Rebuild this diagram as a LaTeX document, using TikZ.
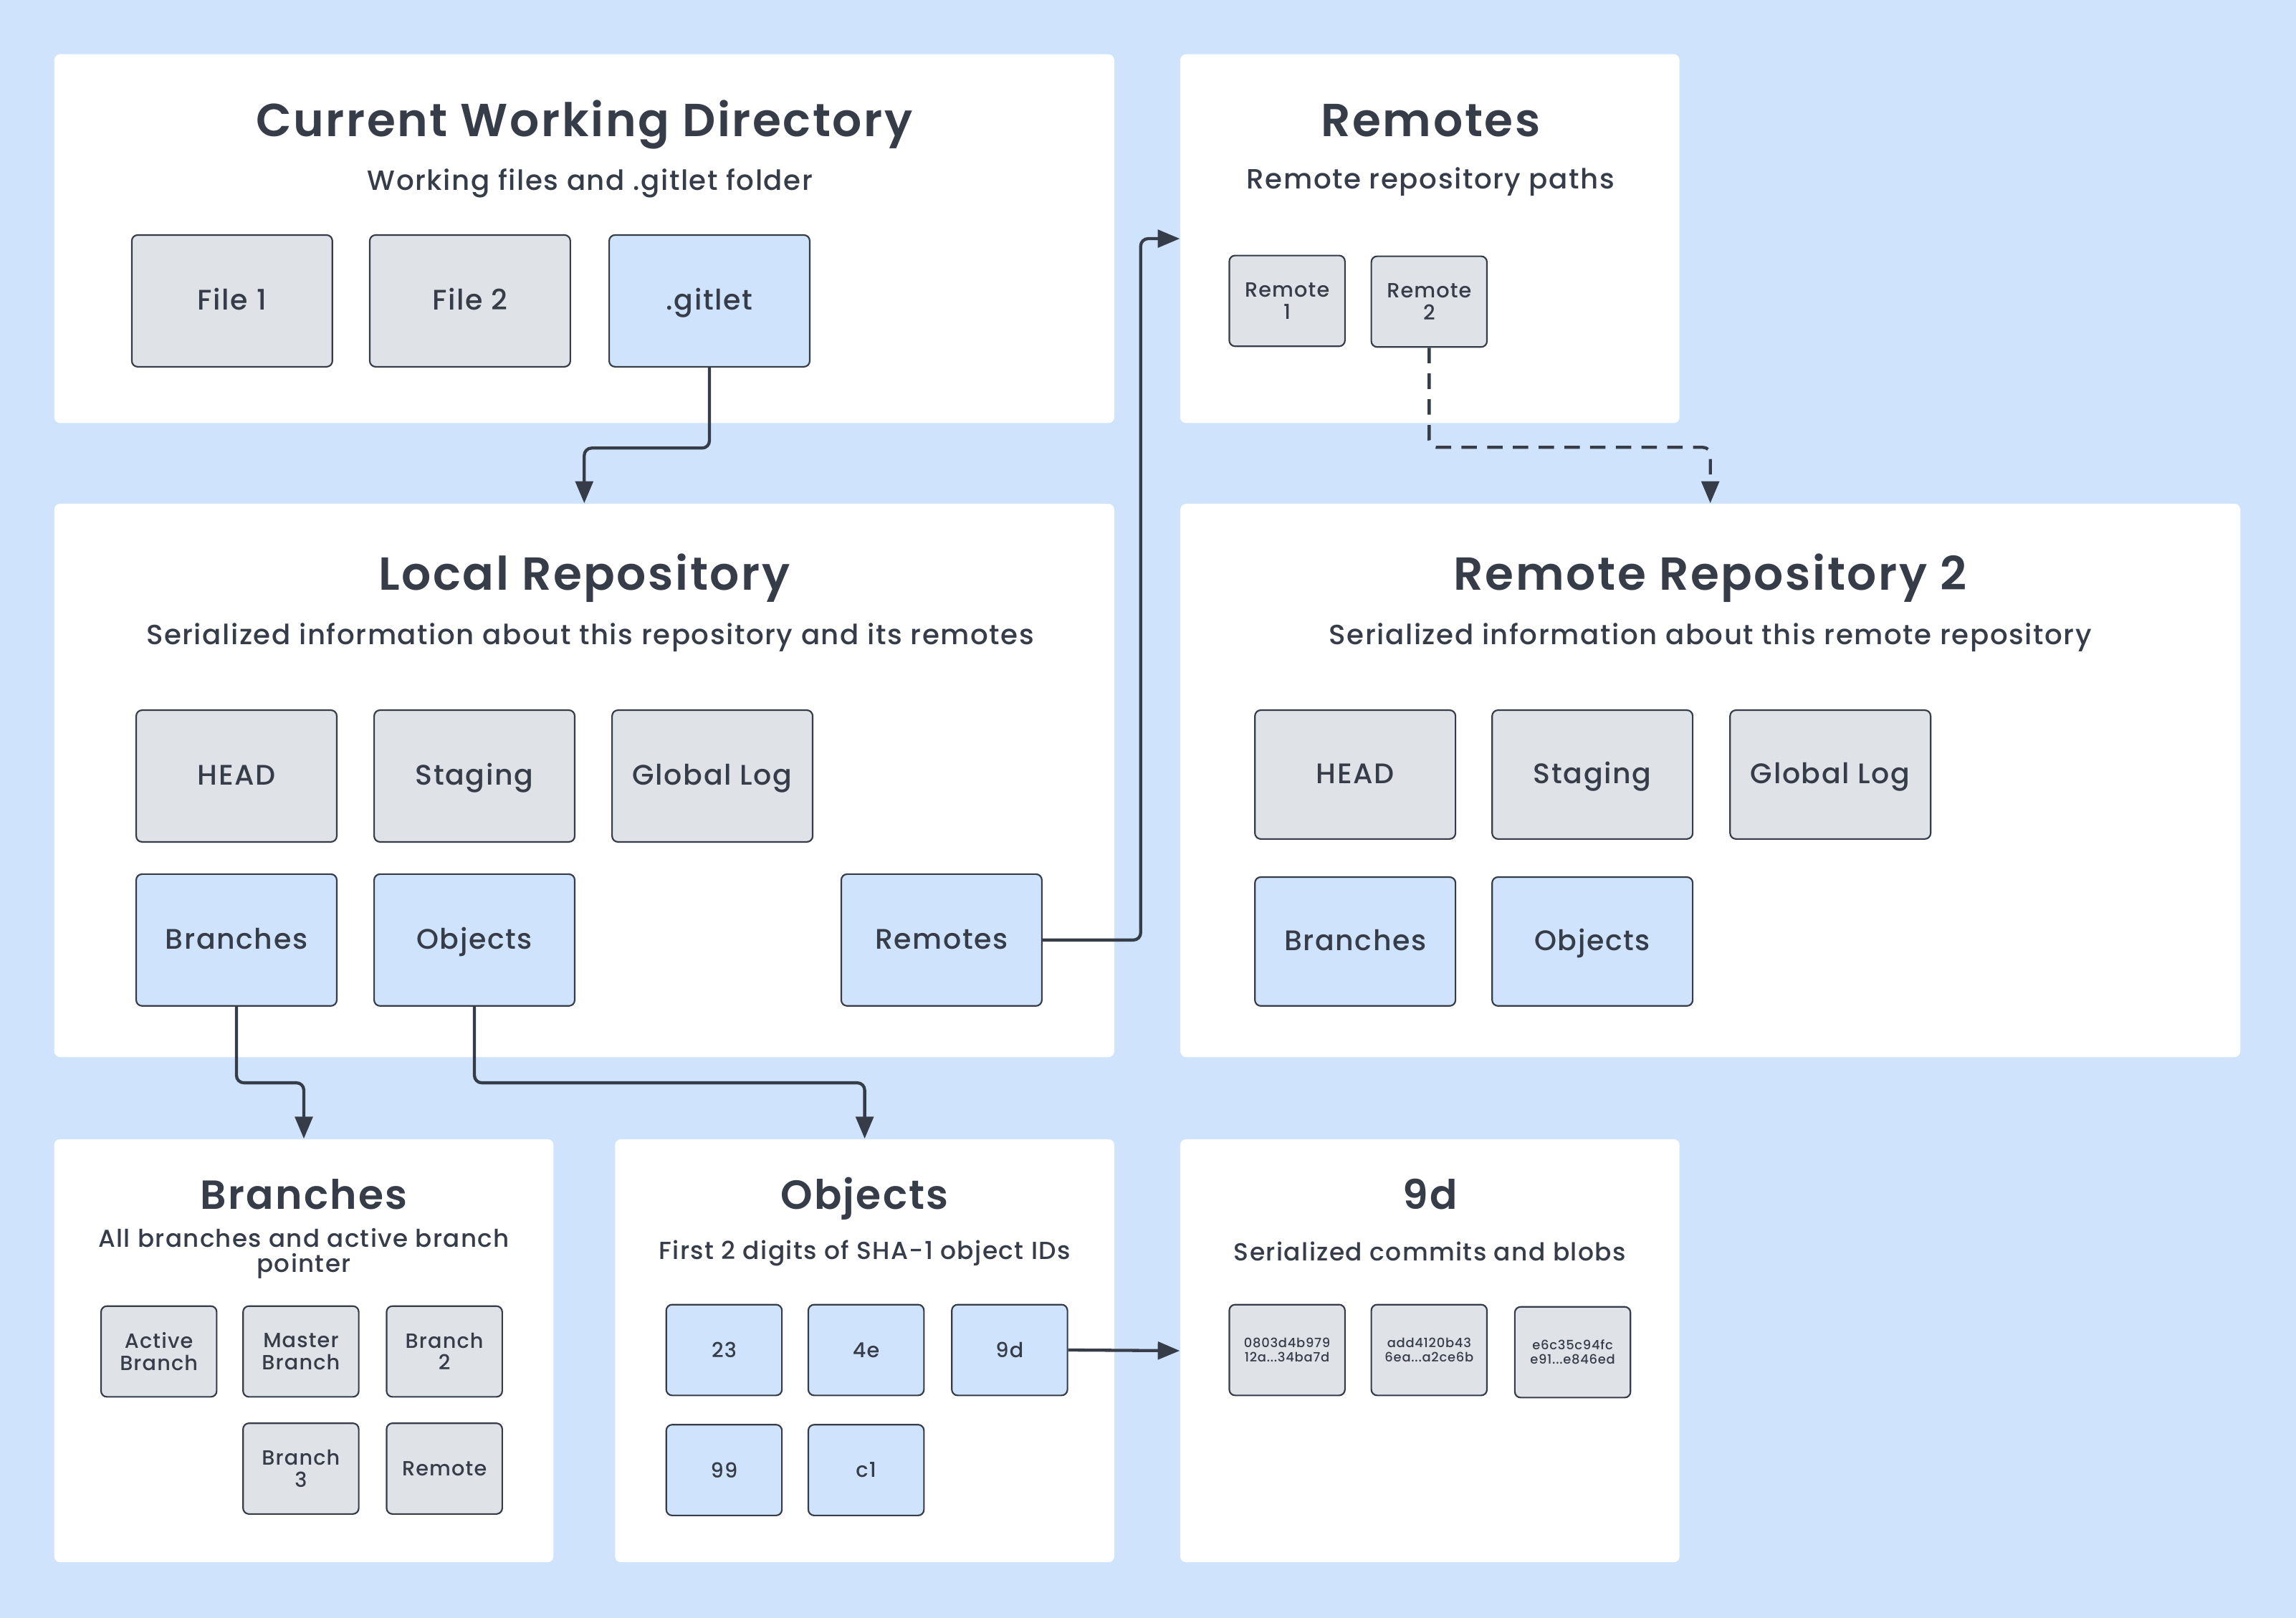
\documentclass[tikz,border=0pt]{standalone}
\usepackage{fontspec}
\setmainfont{Poppins}[LetterSpace=4,UprightFont=* Medium,BoldFont=* SemiBold]
\usetikzlibrary{arrows.meta}

\definecolor{bgblue}{HTML}{CFE3FD}
\definecolor{boxgrey}{HTML}{DFE2E7}
\definecolor{ink}{HTML}{363D48}

\begin{document}
\begin{tikzpicture}[x=0.02cm,y=-0.02cm,
					text=ink,
					panel node/.style={fill=white,rounded corners=0.08cm,inner sep=0pt},
					grey node/.style={draw=ink,line width=0.6pt,fill=boxgrey,rounded corners=0.08cm,
						minimum width=2.74cm,minimum height=1.8cm,inner sep=0pt,align=center,
						text height=0.72em,text depth=0.02em,
						font=\fontsize{11}{13}\selectfont},
					blue node/.style={grey node,fill=bgblue},
					small node/.style={grey node,minimum width=1.58cm,minimum height=1.24cm,
						text height=,text depth=,font=\fontsize{8}{8.5}\selectfont},
					small blue node/.style={small node,fill=bgblue},
					hash node/.style={small node,font=\fontsize{5}{5.6}\selectfont},
					title node/.style={anchor=base,font=\fontsize{18}{20}\selectfont\bfseries},
					small title node/.style={title node,font=\fontsize{15.8}{18}\selectfont\bfseries},
					sub node/.style={anchor=base,align=center,font=\fontsize{10.8}{9.5}\selectfont},
					small sub node/.style={sub node,font=\fontsize{9.6}{9.8}\selectfont},
					link/.style={draw=ink,line width=1.2pt,rounded corners=0.1cm,-{Triangle[length=0.3cm,width=0.24cm]}}]

  \fill[bgblue] (0,0) rectangle (1568,1105);

  % panels
  \node[panel node,minimum width=14.48cm,minimum height=5.04cm] (cwd) at (399,163) {};
  \node[panel node,minimum width=6.82cm,minimum height=5.04cm] (remotes) at (976.5,163) {};
  \node[panel node,minimum width=14.48cm,minimum height=7.56cm] (local) at (399,533) {};
  \node[panel node,minimum width=14.48cm,minimum height=7.56cm] (rrepo) at (1168,533) {};
  \node[panel node,minimum width=6.82cm,minimum height=5.78cm] (branches) at (207.5,922.5) {};
  \node[panel node,minimum width=6.82cm,minimum height=5.78cm] (objects) at (590.5,922.5) {};
  \node[panel node,minimum width=6.82cm,minimum height=5.78cm] (ninep) at (976.5,922.5) {};

  % current working directory
  \node[title node] (cwdt) at (399,93) {Current Working Directory};
  \node[sub node] (cwds) at (403,130) {Working files and .gitlet folder};
  \node[grey node] (file1) at (158.5,205.5) {File 1};
  \node[grey node] (file2) at (321,205.5) {File 2};
  \node[blue node] (gitlet) at (484.5,205.5) {.gitlet};

  % remotes
  \node[title node] (remt) at (977,93) {Remotes};
  \node[sub node] (rems) at (977,129) {Remote repository paths};
  \node[small node] (rem1) at (879,205.5) {Remote\\1};
  \node[small node] (rem2) at (976,206) {Remote\\2};

  % local repository
  \node[title node] (localt) at (399,403) {Local Repository};
  \node[sub node] (locals) at (403,440) {Serialized information about this repository and its remotes};
  \node[grey node] (lhead) at (161.5,530) {HEAD};
  \node[grey node] (lstage) at (324,530) {Staging};
  \node[grey node] (llog) at (486.5,530) {Global Log};
  \node[blue node] (lbranches) at (161.5,642) {Branches};
  \node[blue node] (lobjects) at (324,642) {Objects};
  \node[blue node] (lremotes) at (643,642) {Remotes};

  % remote repository 2
  \node[title node] (rrepot) at (1168,403) {Remote Repository 2};
  \node[sub node] (rrepos) at (1168,440) {Serialized information about this remote repository};
  \node[grey node,minimum height=1.76cm] (rhead) at (925.5,529) {HEAD};
  \node[grey node,minimum height=1.76cm] (rstage) at (1087.5,529) {Staging};
  \node[grey node,minimum height=1.76cm] (rlog) at (1250,529) {Global Log};
  \node[blue node,minimum height=1.76cm] (rbranches) at (925.5,643) {Branches};
  \node[blue node,minimum height=1.76cm] (robjects) at (1087.5,643) {Objects};

  % branches
  \node[small title node] (brt) at (207.5,826) {Branches};
  \node[small sub node,font=\fontsize{9.5}{9.8}\selectfont] (brs) at (207.5,869) {All branches and active branch\\pointer};
  \node[small node] (active) at (108.5,923) {Active\\Branch};
  \node[small node] (master) at (205.5,923) {Master\\Branch};
  \node[small node] (br2) at (303.5,923) {Branch\\2};
  \node[small node] (br3) at (205.5,1003) {Branch\\3};
  \node[small node] (brrem) at (303.5,1003) {Remote};

  % objects
  \node[small title node] (objt) at (590.5,826) {Objects};
  \node[small sub node] (objs) at (590.5,860) {First 2 digits of SHA-1 object IDs};
  \node[small blue node] (o23) at (494.5,922) {23};
  \node[small blue node] (o4e) at (591.5,922) {4e};
  \node[small blue node] (o9d) at (689.5,922) {9d};
  \node[small blue node] (o99) at (494.5,1004) {99};
  \node[small blue node] (oc1) at (591.5,1004) {c1};

  % 9d
  \node[small title node] (ninet) at (976.5,826) {9d};
  \node[small sub node] (nines) at (976.5,861) {Serialized commits and blobs};
  \node[hash node] (h1) at (879,922) {0803d4b979\\12a...34ba7d};
  \node[hash node] (h2) at (976,922) {add4120b43\\6ea...a2ce6b};
  \node[hash node] (h3) at (1074,923.5) {e6c35c94fc\\e91...e846ed};

  % connectors
  \draw[link] (gitlet.south) -- ++(0,55) -| (local.north);
  \draw[link] (lremotes.east) -- ++(67,0) |- (remotes.west);
  \draw[link,dashed,dash pattern=on 6pt off 4pt] (rem2.south) -- ++(0,68) -| (rrepo.north);
  \draw[link] (lbranches.south) -- ++(0,52) -| (branches.north);
  \draw[link] (lobjects.south) -- ++(0,52) -| (objects.north);
  \draw[link] (o9d.east) -- (ninep.west);
\end{tikzpicture}
\end{document}
